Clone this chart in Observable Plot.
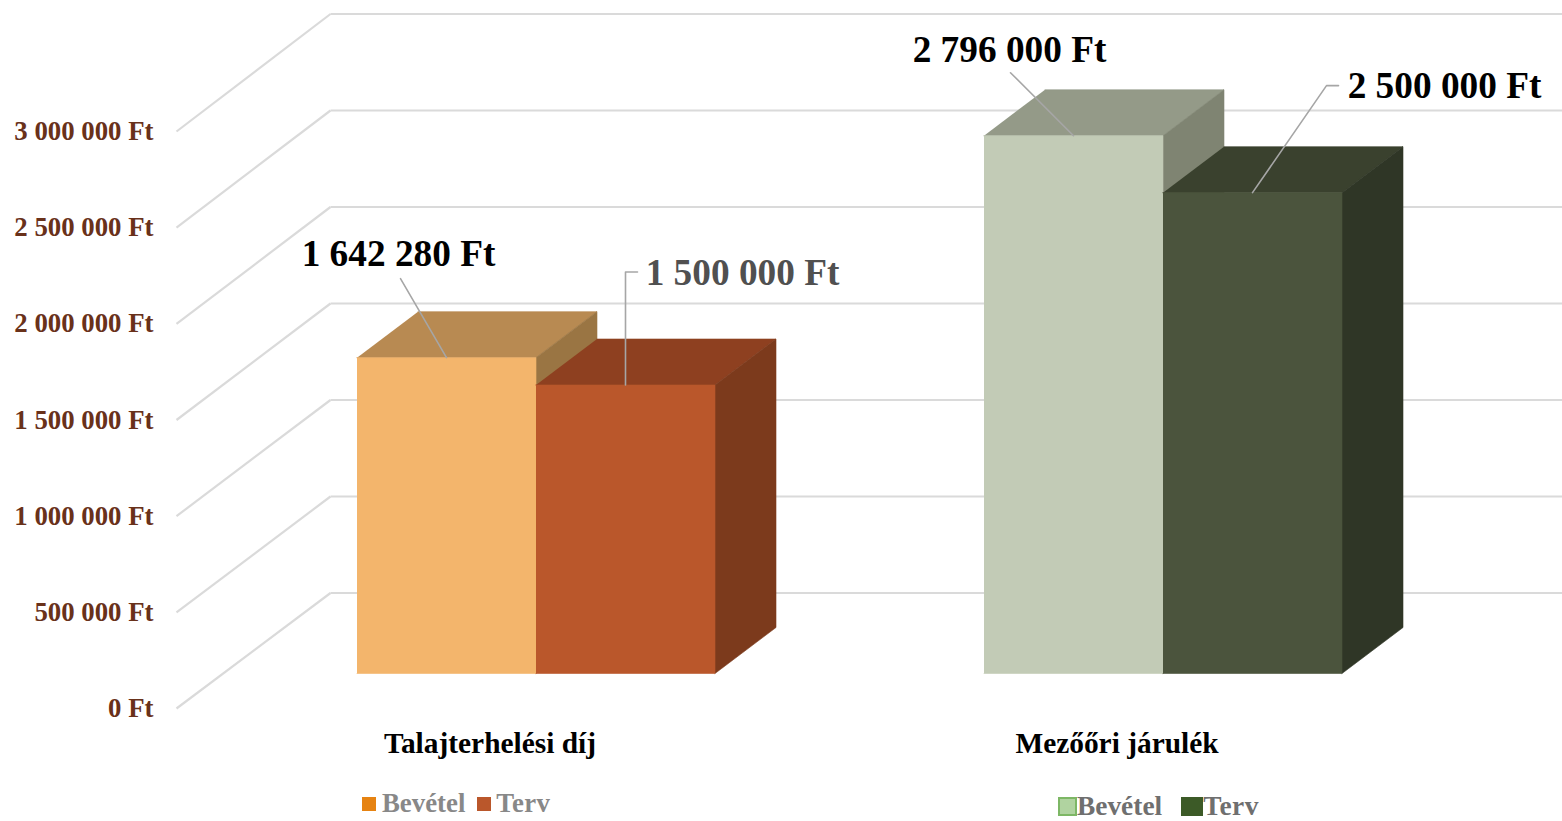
<!DOCTYPE html>
<html lang="hu">
<head>
<meta charset="utf-8">
<script src="https://cdn.jsdelivr.net/npm/d3@7"></script>
<script src="https://cdn.jsdelivr.net/npm/@observablehq/plot@0.6"></script>
<style>
html,body{margin:0;padding:0;background:#fff;overflow:hidden;width:1562px;height:821px}
#wrap{position:relative;width:1562px;height:821px;font-family:"Liberation Serif",serif}
#chart svg{display:block;background:#fff}
.lg{position:absolute;display:flex;align-items:center;font-weight:700;font-size:26.8px;color:#888;line-height:.8;white-space:nowrap}
.lg i{display:inline-block;width:14px;height:14px}
</style>
</head>
<body>
<div id="wrap"><div id="chart"></div>
<div class="lg" style="left:362px;top:793px"><i style="background:#E68312;margin-right:6px"></i><span>Bevétel</span><i style="background:#BA572B;margin:0 5px 0 12px"></i><span style="letter-spacing:.3px">Terv</span></div>
<div class="lg" style="left:1058px;top:796px;color:#6f6f6f;font-size:27.4px"><i style="background:#B0D3A0;border:2px solid #7DB765;width:15px;height:15px"></i><span>Bevétel</span><i style="background:#3C5A27;width:22px;height:19px;margin-left:19px"></i><span style="letter-spacing:.5px">Terv</span></div>
</div>
<script>
// Data
const categories = ["Talajterhelési díj", "Mezőőri járulék"];
const seriesNames = ["Bevétel", "Terv"];
const bevetel = [1642280, 2796000];
const terv = [1500000, 2500000];
const yTicks = [0, 500000, 1000000, 1500000, 2000000, 2500000, 3000000];

// Colours: [front, top, side] per category and series
const palette = [
  [["#F3B56C", "#B88A52", "#9A7543"], ["#BA572B", "#8E4020", "#7C3A1C"]],
  [["#C2CBB6", "#949A88", "#7F8472"], ["#4B543D", "#3A412E", "#2F3626"]]
];
const labelColors = [["#000000", "#505050"], ["#000000", "#000000"]];

// Oblique projection in scale units (x in px-like units, y in Ft)
const k = 577 / 3000000;          // px per Ft on the y scale
const px = (p) => p / k;          // pixel offset expressed in Ft
const axisX = 176, wallDx = 154;
const wallY = (v) => v * (579 / 577) + px(115.5);
const floorDy = px(35), barDx = 61, barDy = px(46);
const groupX = [356.5, 983.5], barW = 179;

const fmt = (v) => d3.format(",")(v).replace(/,/g, " ") + " Ft";

const faces = [], labels = [], leaders = [];
// label/leader offsets from the middle of each bar's front top edge, in px
const labelOff = [
  [{dx: -48, dy: -104, path: [[-46, -79], [0, 0]]},
   {dx: 117, dy: -112, path: [[12, -113], [0, -113], [0, 0]]}],
  [{dx: -64, dy: -86,  path: [[-63, -63], [0, 0]]},
   {dx: 192, dy: -107, path: [[86, -107], [74, -107], [0, 0]]}]
];
categories.forEach((c, ci) => {
  [bevetel, terv].forEach((arr, si) => {
    const v = arr[ci], x0 = groupX[ci] + si * barW, x1 = x0 + barW;
    const b = floorDy, t = v + floorDy;
    const [front, top, side] = palette[ci][si];
    const face = (name, color, pts) => pts.forEach(([x, y]) =>
      faces.push({id: `${ci}-${si}-${name}`, color, x, y}));
    face("top", top, [[x0, t], [x1, t], [x1 + barDx, t + barDy], [x0 + barDx, t + barDy]]);
    face("side", side, [[x1, b], [x1 + barDx, b + barDy], [x1 + barDx, t + barDy], [x1, t]]);
    face("front", front, [[x0, b], [x1, b], [x1, t], [x0, t]]);
    const cx = (x0 + x1) / 2, off = labelOff[ci][si];
    labels.push({x: cx + off.dx, y: t - px(off.dy), text: fmt(v), color: labelColors[ci][si]});
    off.path.forEach(([ox, oy]) =>
      leaders.push({id: `${ci}-${si}`, x: cx + ox, y: t - px(oy)}));
  });
});
const catData = categories.map((c, i) => ({c, x: groupX[i] + barW}));

const chart = Plot.plot({
  width: 1562, height: 780,
  marginLeft: 160, marginRight: 0, marginTop: 0, marginBottom: 0,
  x: {domain: [160, 1562], range: [160, 1562], axis: null},
  y: {domain: [0, 3000000], range: [708, 131], axis: null},
  marks: [
    Plot.link(yTicks, {x1: axisX, x2: axisX + wallDx, y1: d => d, y2: wallY, stroke: "#DADADA", strokeWidth: 2.2}),
    Plot.link(yTicks, {x1: axisX + wallDx, x2: 1562, y1: wallY, y2: wallY, stroke: "#DADADA", strokeWidth: 2.2}),
    Plot.axisY({ticks: yTicks, tickSize: 0, tickPadding: 7, tickFormat: fmt, label: null,
      fontSize: 26.8, fontWeight: 700, fontFamily: "Liberation Serif", fill: "#69311A"}),
    Plot.line(faces, {x: "x", y: "y", z: "id", fill: "color", stroke: "color", strokeWidth: 0.6}),
    Plot.line(leaders, {x: "x", y: "y", z: "id", stroke: "#A6A6A6", strokeWidth: 1.6}),
    Plot.text(labels, {x: "x", y: "y", text: "text", fill: "color",
      fontSize: 37.3, fontWeight: 700, fontFamily: "Liberation Serif"}),
    Plot.text(catData, {x: "x", y: () => 0, text: "c", dx: -46, dy: 35, fill: "#000",
      fontSize: 29.4, fontWeight: 700, fontFamily: "Liberation Serif"})
  ]
});
document.getElementById("chart").append(chart);
</script>
</body>
</html>
